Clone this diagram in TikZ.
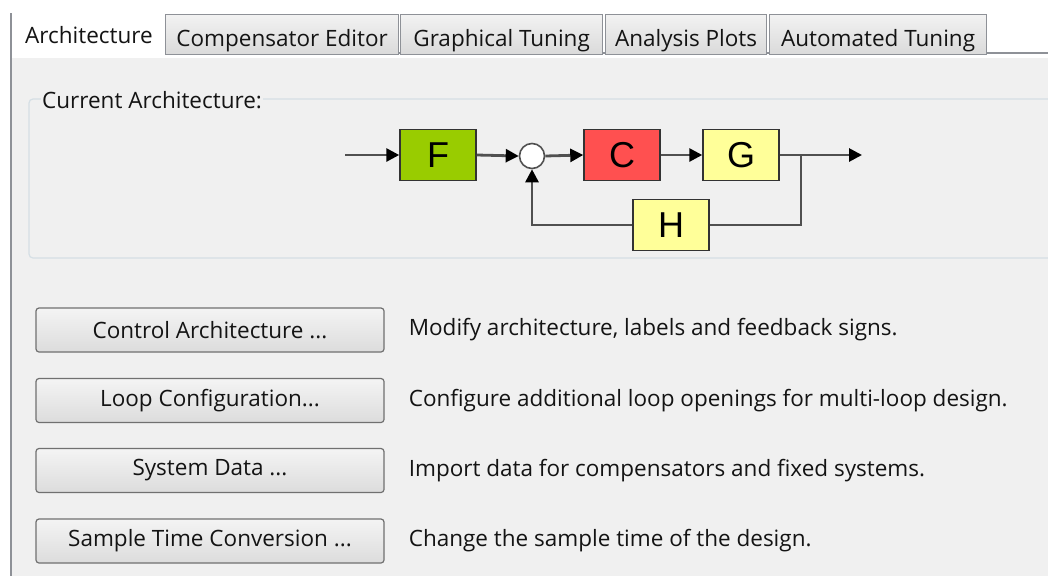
\documentclass[tikz,border=0pt]{standalone}
\usepackage{fontspec}
\setmainfont{Open Sans}
\newfontfamily\blockfont{Liberation Sans}
\usepackage{tikz}
\usetikzlibrary{shapes,arrows.meta,positioning}

\definecolor{panelbg}{HTML}{F0F0F0}
\definecolor{tabedge}{HTML}{8E9197}
\definecolor{tabtop}{HTML}{F2F2F2}
\definecolor{tabbot}{HTML}{DADADA}
\definecolor{grpedge}{HTML}{D5DFE5}
\definecolor{btnedge}{HTML}{707070}
\definecolor{btntop}{HTML}{F4F4F4}
\definecolor{btnbot}{HTML}{DCDCDC}
\definecolor{wire}{HTML}{505050}
\definecolor{blkF}{HTML}{99CC00}
\definecolor{blkC}{HTML}{FF5050}
\definecolor{blkG}{HTML}{FFFF99}
\definecolor{uitext}{HTML}{141414}

\begin{document}
\begin{tikzpicture}[x=1pt, y=-1pt,
    uifont/.style={font=\fontsize{22.5}{26}\selectfont, text=uitext},
    tab/.style={draw=tabedge, line width=1.2pt, top color=tabtop, bottom color=tabbot,
                anchor=north west, minimum height=40pt, inner sep=0pt,
                text height=23pt, text depth=0pt, uifont},
    button/.style={draw=btnedge, line width=1.2pt, rounded corners=3pt,
                   top color=btntop, bottom color=btnbot,
                   minimum width=348pt, minimum height=44pt, inner sep=0pt, uifont},
    desc/.style={anchor=west, inner sep=0pt, uifont},
    block/.style={draw=black!80, line width=1.5pt, minimum width=76pt, minimum height=51pt,
                  inner sep=0pt, font=\blockfont\fontsize{36}{36}\selectfont},
    sumpt/.style={draw=wire, line width=1.6pt, fill=white, circle, minimum size=25pt, inner sep=0pt},
    signal/.style={draw=wire, line width=2.8pt, -{Triangle[length=13pt,width=13pt,color=black,fill=black]}},
    wireline/.style={draw=wire, line width=2.8pt}
]
\useasboundingbox (0,0) rectangle (1048,576);
\fill[white] (0,0) rectangle (1048,576);

% Panel and tab strip
\fill[panelbg] (12,58) rectangle (1048,576);
\draw[tabedge, line width=1.2pt] (11,13) -- (11,576);
\draw[tabedge, line width=1.2pt] (165,53) -- (1048,53);
\node[anchor=west, inner sep=0pt, uifont] (tarch) at (25,35) {Architecture};
\node[tab, minimum width=233pt] (tcomp) at (165,14) {Compensator Editor};
\node[tab, minimum width=202pt] (tgraph) at (400,14) {Graphical Tuning};
\node[tab, minimum width=161pt] (tanal) at (605,14) {Analysis Plots};
\node[tab, minimum width=217pt] (tauto) at (769,14) {Automated Tuning};

% Current architecture group
\draw[grpedge, line width=1.2pt, rounded corners=4pt] (29,99) rectangle (1060,258);
\node[anchor=west, fill=panelbg, inner xsep=1pt, inner ysep=0pt, uifont] (grplabel) at (41,100) {Current Architecture:};

% Block diagram
\node[block, fill=blkF] (F) at (438,155) {F};
\node[sumpt] (sum) at (532,156) {};
\node[block, fill=blkC] (C) at (622,155) {C};
\node[block, fill=blkG] (G) at (741,155) {G};
\node[block, fill=blkG] (H) at (671,225) {H};
\coordinate (in) at (345,155);
\coordinate (branch) at (801,155);
\coordinate (out) at (862,155);

\draw[signal] (in) -- (F.west);
\draw[signal] (F.east) -- (sum.west);
\draw[signal] (sum.east) -- (C.west);
\draw[signal] (C.east) -- (G.west);
\draw[wireline] (G.east) -- (branch);
\draw[signal] (branch) -- (out);
\draw[wireline] (branch) |- (H.east);
\draw[signal] (H.west) -| (sum.south);

% Buttons with descriptions
\node[button] (btnarch) at (210,330) {Control Architecture ...};
\node[button] (btnloop) at (210,400.5) {Loop Configuration...};
\node[button] (btndata) at (210,470.5) {System Data ...};
\node[button] (btntime) at (210,541) {Sample Time Conversion ...};

\node[desc, right=24pt of btnarch] (darch) {Modify architecture, labels and feedback signs.};
\node[desc, right=24pt of btnloop] (dloop) {Configure additional loop openings for multi-loop design.};
\node[desc, right=24pt of btndata] (ddata) {Import data for compensators and fixed systems.};
\node[desc, right=24pt of btntime] (dtime) {Change the sample time of the design.};

\end{tikzpicture}
\end{document}
